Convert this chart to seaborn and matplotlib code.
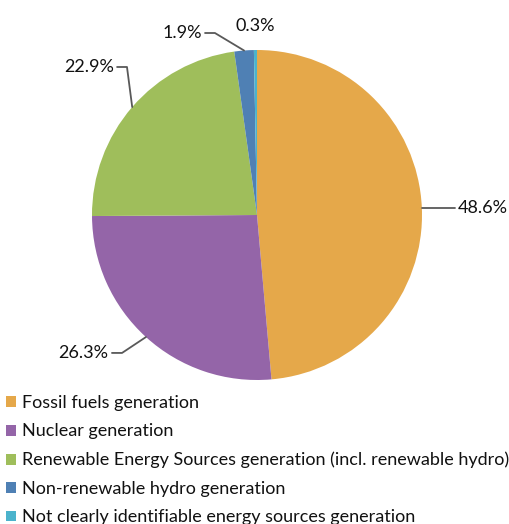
import matplotlib
matplotlib.use("Agg")
import matplotlib.pyplot as plt
import seaborn as sns
import numpy as np

categories = [
    "Fossil fuels generation",
    "Nuclear generation",
    "Renewable Energy Sources generation (incl. renewable hydro)",
    "Non-renewable hydro generation",
    "Not clearly identifiable energy sources generation",
]
values = [48.6, 26.3, 22.9, 1.9, 0.3]
value_labels = ["48.6%", "26.3%", "22.9%", "1.9%", "0.3%"]
colors = ["#E5A84A", "#9465A8", "#9FBE5B", "#4F80B4", "#4BB3CC"]

sns.set_theme(style="white")
plt.rcParams["font.family"] = ["Lato", "DejaVu Sans"]

W, H = 509, 524
fig = plt.figure(figsize=(W / 100, H / 100), dpi=100)
cx, cy, r = 257, 215, 165
ax = fig.add_axes([(cx - r) / W, (H - cy - r) / H, 2 * r / W, 2 * r / H])
wedges, _ = ax.pie(values, colors=colors, startangle=90, counterclock=False,
                   radius=1.0, wedgeprops=dict(linewidth=0))
ax.set_xlim(-1, 1)
ax.set_ylim(-1, 1)
ax.set_aspect("auto")
ax.axis("off")

lc = "#595959"
tc = "#111111"
fs = 13
cum = np.cumsum([0] + values)
layout = {
    1: (-0.818, -0.836, -0.879, -0.836),
    2: (-0.788, 0.897, -0.848, 0.897),
    3: (-0.255, 1.103, -0.315, 1.103),
}
for i, v in enumerate(values):
    mid = 90 - (cum[i] + v / 2) * 3.6
    ex, ey = np.cos(np.radians(mid)), np.sin(np.radians(mid))
    if i == 0:
        ax.plot([ex, 1.2], [ey, ey], color=lc, lw=1.3, clip_on=False)
        ax.text(1.215, ey, value_labels[i], ha="left", va="center", fontsize=fs,
                color=tc)
    elif i == 4:
        ax.text(-0.01, 1.145, value_labels[i], ha="center", va="center", fontsize=fs,
                color=tc)
    else:
        bx, by, tx, ty = layout[i]
        ax.plot([ex, bx, tx], [ey, by, ty], color=lc, lw=1.3, clip_on=False)
        ax.text(tx - 0.02, ty, value_labels[i], ha="right", va="center", fontsize=fs,
                color=tc)

leg = fig.legend(wedges, categories, loc="upper left",
                 bbox_to_anchor=(6 / W, 1 - 395 / H), frameon=False,
                 fontsize=fs, handlelength=0.55, handleheight=0.55,
                 handletextpad=0.35, labelspacing=0.69, borderpad=0,
                 borderaxespad=0)
for t in leg.get_texts():
    t.set_color(tc)

fig.savefig("out.png", dpi=100)
